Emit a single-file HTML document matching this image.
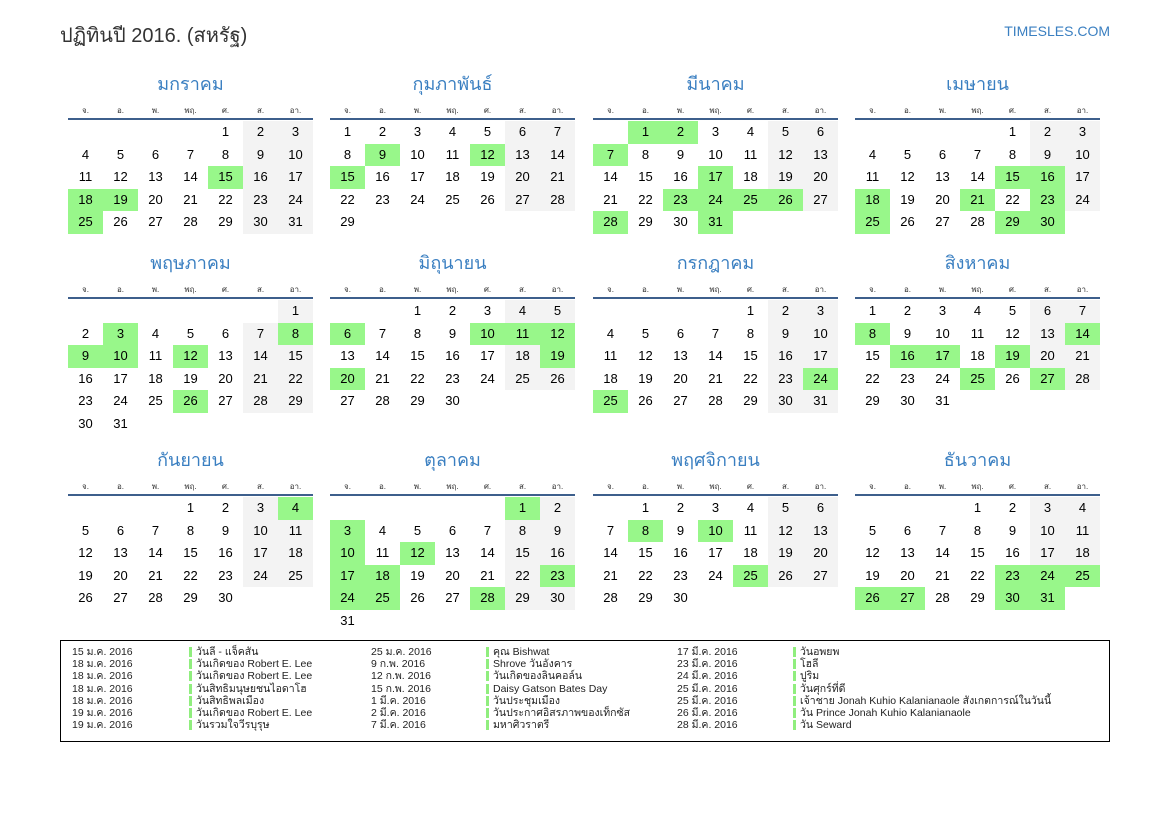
<!DOCTYPE html>
<html><head><meta charset="utf-8">
<style>
body{margin:0;width:1169px;height:827px;background:#fff;position:relative;overflow:hidden;font-family:"Liberation Sans","DejaVu Sans",sans-serif;color:#000}
.a{position:absolute;white-space:nowrap}
.t{font-size:18px;color:#3a7fc1;width:245px;text-align:center;line-height:24px}
.wd{font-size:8px;color:#333;width:35px;text-align:center}
.c{width:35px;height:22.5px;line-height:22.5px;text-align:center;font-size:13px}
.ln{height:2px;background:#3d5f8c;width:245px}
.lg{font-size:10.5px;color:#222;line-height:12px;height:12px}
.bar{width:3px;height:10px;background:#90ee7e}
</style></head><body>
<div class="a" style="left:60px;top:19px;font-size:20px;color:#333">ปฏิทินปี 2016. (สหรัฐ)</div>
<div class="a" style="right:59px;top:23px;font-size:14px;color:#3a7fc1">TIMESLES.COM</div>
<div id="cal"></div>
<div class="a" style="left:60px;top:640px;width:1048px;height:100px;border:1px solid #000"></div>
<div id="leg"></div>
<script>
var names=["มกราคม","กุมภาพันธ์","มีนาคม","เมษายน","พฤษภาคม","มิถุนายน","กรกฎาคม","สิงหาคม","กันยายน","ตุลาคม","พฤศจิกายน","ธันวาคม"];
var wds=["จ.","อ.","พ.","พฤ.","ศ.","ส.","อา."];
var hol=[[15,18,19,25],[9,12,15],[1,2,7,17,23,24,25,26,28,31],[15,16,18,21,23,25,29,30],[3,8,9,10,12,26],[6,10,11,12,19,20],[24,25],[8,14,16,17,19,25,27],[4],[1,3,10,12,17,18,23,24,25,28],[8,10,25],[23,24,25,26,27,30,31]];
var xs=[68,330,593,855],ty=[72,251,448];
var h="";
for(var m=0;m<12;m++){
 var x=xs[m%4],y=ty[Math.floor(m/4)];
 h+='<div class="a t" style="left:'+x+'px;top:'+(y)+'px">'+names[m]+'</div>';
 for(var i=0;i<7;i++)h+='<div class="a wd" style="left:'+(x+35*i)+'px;top:'+(y+32)+'px">'+wds[i]+'</div>';
 h+='<div class="a ln" style="left:'+x+'px;top:'+(y+46)+'px"></div>';
 var s=(new Date(2016,m,1).getDay()+6)%7,n=new Date(2016,m+1,0).getDate();
 for(var d=1;d<=n;d++){
  var p=s+d-1,c=p%7,r=Math.floor(p/7);
  var bg=hol[m].indexOf(d)>=0?'#98f78a':(c>=5?'#f3f3f3':'transparent');
  h+='<div class="a c" style="left:'+(x+35*c)+'px;top:'+(y+49+22.5*r)+'px;background:'+bg+'">'+d+'</div>';
 }
}
document.getElementById('cal').innerHTML=h;
var L=[
[["15 ม.ค. 2016","วันลี - แจ็คสัน"],["18 ม.ค. 2016","วันเกิดของ Robert E. Lee"],["18 ม.ค. 2016","วันเกิดของ Robert E. Lee"],["18 ม.ค. 2016","วันสิทธิมนุษยชนไอดาโฮ"],["18 ม.ค. 2016","วันสิทธิพลเมือง"],["19 ม.ค. 2016","วันเกิดของ Robert E. Lee"],["19 ม.ค. 2016","วันรวมใจวีรบุรุษ"]],
[["25 ม.ค. 2016","คุณ Bishwat"],["9 ก.พ. 2016","Shrove วันอังคาร"],["12 ก.พ. 2016","วันเกิดของลินคอล์น"],["15 ก.พ. 2016","Daisy Gatson Bates Day"],["1 มี.ค. 2016","วันประชุมเมือง"],["2 มี.ค. 2016","วันประกาศอิสรภาพของเท็กซัส"],["7 มี.ค. 2016","มหาศิวราตรี"]],
[["17 มี.ค. 2016","วันอพยพ"],["23 มี.ค. 2016","โฮลี"],["24 มี.ค. 2016","ปูริม"],["25 มี.ค. 2016","วันศุกร์ที่ดี"],["25 มี.ค. 2016","เจ้าชาย Jonah Kuhio Kalanianaole สังเกตการณ์ในวันนี้"],["26 มี.ค. 2016","วัน Prince Jonah Kuhio Kalanianaole"],["28 มี.ค. 2016","วัน Seward"]]];
var dx=[72,371,677],bx=[189,486,793];h="";
for(var k=0;k<3;k++)for(var j=0;j<7;j++){var yy=646+12.2*j;
 h+='<div class="a lg" style="left:'+dx[k]+'px;top:'+yy+'px">'+L[k][j][0]+'</div>';
 h+='<div class="a bar" style="left:'+bx[k]+'px;top:'+(yy+1)+'px"></div>';
 h+='<div class="a lg" style="left:'+(bx[k]+7)+'px;top:'+yy+'px">'+L[k][j][1]+'</div>';}
document.getElementById('leg').innerHTML=h;
</script>
</body></html>
